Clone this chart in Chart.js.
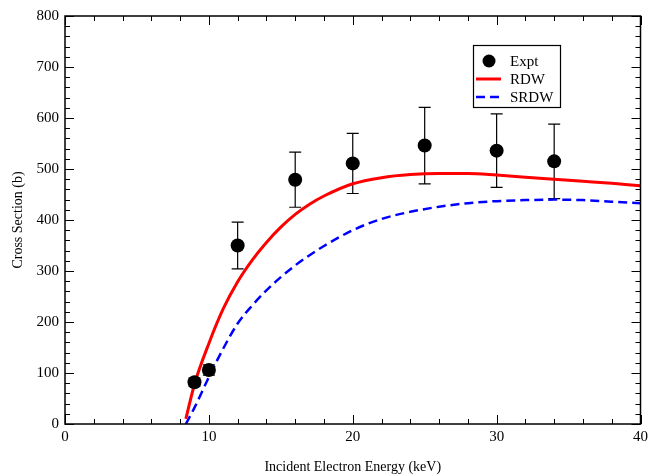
<!DOCTYPE html>
<html>
<head>
<meta charset="utf-8">
<script src="https://cdn.jsdelivr.net/npm/chart.js@4"></script>
<style>
  html, body { margin: 0; padding: 0; background: #fff; }
  #wrap { width: 652px; height: 476px; }
</style>
</head>
<body>
<div id="wrap"><canvas id="chart" width="652" height="476"></canvas></div>
<script>
// experimental points with symmetric error bars
const exptX = [9, 10, 12, 16, 20, 25, 30, 34];
const exptY = [82, 106, 350, 479, 511, 546, 536, 515];
const exptErr = [8, 10, 46, 54, 59, 75, 72, 73];

// theory curves
const rdwX = [8.4, 9, 10, 11, 12, 13, 14, 15, 16, 17, 18, 20, 22, 24, 26, 28, 30, 32, 34, 36, 38, 40];
const rdwY = [10, 78, 158, 226, 279, 321, 356, 386, 411, 431, 447, 471, 483, 489, 491, 491, 488, 484, 480, 476, 472, 467];
const srdwX = [8.4, 9, 10, 11, 12, 13, 14, 15, 16, 17, 18, 20, 22, 24, 26, 28, 30, 32, 34, 36, 38, 40];
const srdwY = [0, 32, 92, 148, 197, 232, 262, 288, 311, 331, 349, 380, 402, 416, 426, 433, 437, 439, 440, 439, 436, 433];

const serif = "'Liberation Serif', 'DejaVu Serif', serif";

const toXY = (xs, ys) => xs.map((x, i) => ({ x: x, y: ys[i] }));

// inward ticks on all four sides + frame
const frameTicks = {
    id: "frameTicks",
    afterDraw(chart) {
        const ctx = chart.ctx, a = chart.chartArea;
        const xs = chart.scales.x, ys = chart.scales.y;
        ctx.save();
        ctx.strokeStyle = "#000";
        ctx.lineWidth = 1;
        for (let v = 0; v <= 40; v += 2) {
            const px = Math.round(xs.getPixelForValue(v)) + 0.5;
            const len = v % 10 === 0 ? 9 : 5;
            ctx.beginPath();
            ctx.moveTo(px, a.bottom); ctx.lineTo(px, a.bottom - len);
            ctx.moveTo(px, a.top); ctx.lineTo(px, a.top + len);
            ctx.stroke();
        }
        for (let v = 0; v <= 800; v += 20) {
            const py = Math.round(ys.getPixelForValue(v)) + 0.5;
            const len = v % 100 === 0 ? 9 : 5;
            ctx.beginPath();
            ctx.moveTo(a.left, py); ctx.lineTo(a.left + len, py);
            ctx.moveTo(a.right, py); ctx.lineTo(a.right - len, py);
            ctx.stroke();
        }
        ctx.lineWidth = 1.5;
        ctx.strokeRect(a.left, a.top, a.right - a.left, a.bottom - a.top);
        ctx.restore();
    }
};

// error bars for the Expt dataset
const errorBars = {
    id: "errorBars",
    beforeDatasetsDraw(chart) {
        const ctx = chart.ctx;
        const xs = chart.scales.x, ys = chart.scales.y;
        ctx.save();
        ctx.strokeStyle = "#000";
        ctx.lineWidth = 1.2;
        exptX.forEach((x, i) => {
            const px = xs.getPixelForValue(x);
            const top = ys.getPixelForValue(exptY[i] + exptErr[i]);
            const bot = ys.getPixelForValue(exptY[i] - exptErr[i]);
            ctx.beginPath();
            ctx.moveTo(px, top); ctx.lineTo(px, bot);
            ctx.moveTo(px - 6, top); ctx.lineTo(px + 6, top);
            ctx.moveTo(px - 6, bot); ctx.lineTo(px + 6, bot);
            ctx.stroke();
        });
        ctx.restore();
    }
};

// boxed legend in the upper right
const boxLegend = {
    id: "boxLegend",
    afterDraw(chart) {
        const ctx = chart.ctx;
        const bx = 473, by = 45, bw = 87, bh = 62;
        ctx.save();
        ctx.fillStyle = "#fff";
        ctx.fillRect(bx, by, bw, bh);
        ctx.strokeStyle = "#000";
        ctx.lineWidth = 1.2;
        ctx.strokeRect(bx + 0.5, by + 0.5, bw, bh);
        ctx.font = "15px " + serif;
        ctx.textBaseline = "middle";
        ctx.fillStyle = "#000";
        const rows = chart.data.datasets;
        rows.forEach((ds, i) => {
            const y = by + 16 + i * 18;
            if (ds.showLine === false) {
                ctx.beginPath();
                ctx.arc(489, y, 6.5, 0, Math.PI * 2);
                ctx.fillStyle = "#000";
                ctx.fill();
            } else {
                ctx.strokeStyle = ds.borderColor;
                ctx.lineWidth = ds.borderWidth;
                ctx.setLineDash(ds.borderDash || []);
                ctx.beginPath();
                ctx.moveTo(476, y); ctx.lineTo(501, y);
                ctx.stroke();
                ctx.setLineDash([]);
            }
            ctx.fillStyle = "#000";
            ctx.fillText(ds.label, 510, y + 1);
        });
        ctx.restore();
    }
};

new Chart(document.getElementById("chart"), {
    type: "line",
    data: {
        datasets: [
            { label: "Expt", data: toXY(exptX, exptY), showLine: false, pointRadius: 7, pointBackgroundColor: "#000", pointBorderColor: "#000", pointBorderWidth: 0 },
            { label: "RDW", data: toXY(rdwX, rdwY), borderColor: "#ff0000", borderWidth: 3, pointRadius: 0, cubicInterpolationMode: "monotone", fill: false },
            { label: "SRDW", data: toXY(srdwX, srdwY), borderColor: "#0000ff", borderWidth: 2.5, borderDash: [9, 5], pointRadius: 0, cubicInterpolationMode: "monotone", fill: false }
        ]
    },
    options: {
        responsive: false,
        animation: false,
        layout: { padding: { left: 6, right: 9, top: 16, bottom: 0 } },
        plugins: { legend: { display: false }, tooltip: { enabled: false } },
        scales: {
            x: {
                type: "linear", min: 0, max: 40,
                grid: { display: false, drawTicks: false },
                border: { display: false },
                ticks: { stepSize: 10, padding: 4, color: "#000", font: { family: serif, size: 15 } },
                title: { display: true, text: "Incident Electron Energy (keV)", color: "#000", font: { family: serif, size: 14 }, padding: { top: 0, bottom: 0 } },
                afterFit(s) { s.height = 52; }
            },
            y: {
                min: 0, max: 800,
                grid: { display: false, drawTicks: false },
                border: { display: false },
                ticks: { stepSize: 100, padding: 6, color: "#000", font: { family: serif, size: 15 } },
                title: { display: true, text: "Cross Section (b)", color: "#000", font: { family: serif, size: 14 } },
                afterFit(s) { s.width = 59; }
            }
        }
    },
    plugins: [errorBars, frameTicks, boxLegend]
});
</script>
</body>
</html>
